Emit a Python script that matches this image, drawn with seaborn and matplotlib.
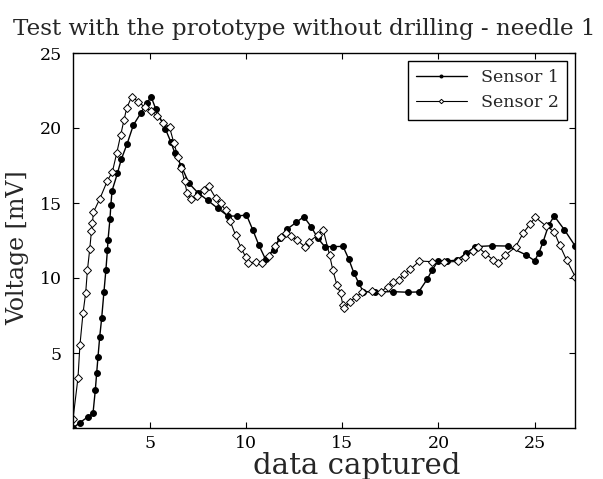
import pandas as pd
import seaborn as sns
import matplotlib
matplotlib.use("Agg")
import matplotlib.pyplot as plt

# values
sensor1_x = [1.0, 1.35, 1.78, 2.04, 2.16, 2.23, 2.30, 2.39, 2.49, 2.61, 2.71, 2.79, 2.82, 2.92,
             2.97, 3.03, 3.31, 3.51, 3.81, 4.14, 4.52, 4.83, 5.07, 5.31, 5.80, 6.08, 6.30, 6.63,
             7.03, 7.49, 8.01, 8.52, 9.06, 9.54, 10.02, 10.35, 10.66, 11.01, 11.44, 11.75, 12.14,
             12.61, 13.00, 13.38, 13.73, 14.09, 14.53, 15.04, 15.34, 15.60, 15.86, 16.09, 16.72,
             17.64, 18.40, 18.97, 19.41, 19.67, 19.97, 20.47, 20.98, 21.45, 21.92, 22.79, 23.60,
             24.57, 25.00, 25.22, 25.44, 25.73, 26.02, 26.54, 27.11]
sensor1_y = [0.0, 0.35, 0.75, 0.98, 2.53, 3.65, 4.75, 6.09, 7.31, 9.09, 10.53, 11.87, 12.53, 13.91,
             14.87, 15.82, 16.98, 17.91, 18.93, 20.2, 20.98, 21.69, 22.05, 21.25, 19.95, 19.09,
             18.31, 17.47, 16.31, 15.69, 15.17, 14.65, 14.13, 14.13, 14.2, 13.2, 12.2, 11.25,
             11.87, 12.65, 13.27, 13.71, 14.09, 13.42, 12.65, 12.09, 12.09, 12.11, 11.25, 10.35,
             9.65, 9.09, 9.07, 9.09, 9.05, 9.07, 9.91, 10.53, 11.11, 11.13, 11.2, 11.67, 12.09,
             12.15, 12.13, 11.53, 11.15, 11.67, 12.4, 13.53, 14.13, 13.23, 12.13]

sensor2_x = [1.0, 1.26, 1.36, 1.52, 1.66, 1.75, 1.87, 1.96, 2.01, 2.06, 2.39, 2.79, 3.05, 3.27,
             3.48, 3.65, 3.79, 4.05, 4.40, 4.74, 5.04, 5.38, 5.70, 6.02, 6.25, 6.45, 6.63, 6.80,
             6.93, 7.11, 7.43, 7.79, 8.06, 8.41, 8.67, 8.93, 9.16, 9.45, 9.75, 9.97, 10.09, 10.49,
             10.84, 11.18, 11.48, 11.79, 12.05, 12.31, 12.66, 13.04, 13.28, 13.73, 14.01, 14.34,
             14.51, 14.72, 14.91, 15.03, 15.08, 15.39, 15.69, 16.03, 16.55, 17.01, 17.36, 17.64,
             17.94, 18.23, 18.54, 19.01, 19.67, 20.29, 21.01, 21.40, 21.79, 22.05, 22.44, 22.84,
             23.09, 23.48, 24.01, 24.40, 24.76, 25.04, 25.61, 26.01, 26.31, 26.66, 27.11]
sensor2_y = [0.6, 3.35, 5.53, 7.65, 9.02, 10.53, 11.91, 13.15, 13.65, 14.38, 15.27, 16.49, 17.09,
             18.31, 19.53, 20.53, 21.31, 22.09, 21.75, 21.38, 21.13, 20.8, 20.35, 20.05, 18.98,
             18.09, 17.31, 16.47, 15.67, 15.27, 15.47, 15.87, 16.1, 15.35, 14.98, 14.53, 13.82,
             12.87, 11.98, 11.42, 11.02, 11.05, 10.98, 11.47, 12.13, 12.71, 13.02, 12.82, 12.53,
             12.09, 12.42, 12.87, 13.2, 11.53, 10.53, 9.53, 8.98, 8.2, 8.0, 8.42, 8.71, 9.05, 9.11,
             9.09, 9.42, 9.75, 9.87, 10.25, 10.58, 11.13, 11.09, 11.05, 11.11, 11.38, 11.81, 12.09,
             11.62, 11.22, 11.0, 11.52, 12.07, 12.98, 13.59, 14.05, 13.45, 13.09, 12.18, 11.2, 10.09]

x_ticks = [5, 10, 15, 20, 25]
y_ticks = [5, 10, 15, 20, 25]

sns.set_style("ticks")
plt.rcParams['font.family'] = ['DejaVu Serif']

s1 = pd.DataFrame({'x': sensor1_x, 'y': sensor1_y})
s2 = pd.DataFrame({'x': sensor2_x, 'y': sensor2_y})

fig = plt.figure(figsize=(6.03, 4.79), dpi=100)
ax = fig.add_axes([73 / 603, 1 - 428 / 479, 502 / 603, 375 / 479])

sns.lineplot(data=s1, x='x', y='y', ax=ax, color='black', linewidth=1.0, marker='o',
             markersize=4.2, markerfacecolor='black', markeredgecolor='black', label='Sensor 1')
sns.lineplot(data=s2, x='x', y='y', ax=ax, color='black', linewidth=0.8, marker='D',
             markersize=4.5, markerfacecolor='white', markeredgecolor='black',
             markeredgewidth=0.7, label='Sensor 2')

ax.set_xlim(1, 27.1)
ax.set_ylim(0, 25)
ax.set_xticks(x_ticks)
ax.set_yticks(y_ticks)
ax.tick_params(axis='both', which='both', direction='in', top=True, right=True,
               labelsize=12.5, length=4, width=0.8, colors='black')
ax.tick_params(axis='y', pad=8)
ax.tick_params(axis='x', pad=5)
for sp in ax.spines.values():
    sp.set_color('black')
    sp.set_linewidth(1.0)

# title sits centred on the figure, not on the axes
ax.set_title('Test with the prototype without drilling - needle 1', fontsize=16.6, pad=13,
             x=(304 - 73) / 502)
ax.set_xlabel('data captured', fontsize=21)
ax.set_ylabel('Voltage [mV]', fontsize=17)
ax.xaxis.set_label_coords((357 - 73) / 502, -0.065)
ax.yaxis.set_label_coords(-0.088, 0.48)

leg = ax.legend(loc='upper right', fontsize=12.5, frameon=True, fancybox=False,
                edgecolor='black', framealpha=1, handlelength=2.9, markerscale=0.5,
                borderpad=0.5, labelspacing=0.45, borderaxespad=0.45)
leg.get_frame().set_linewidth(1.0)

fig.savefig('out.png', dpi=100)
